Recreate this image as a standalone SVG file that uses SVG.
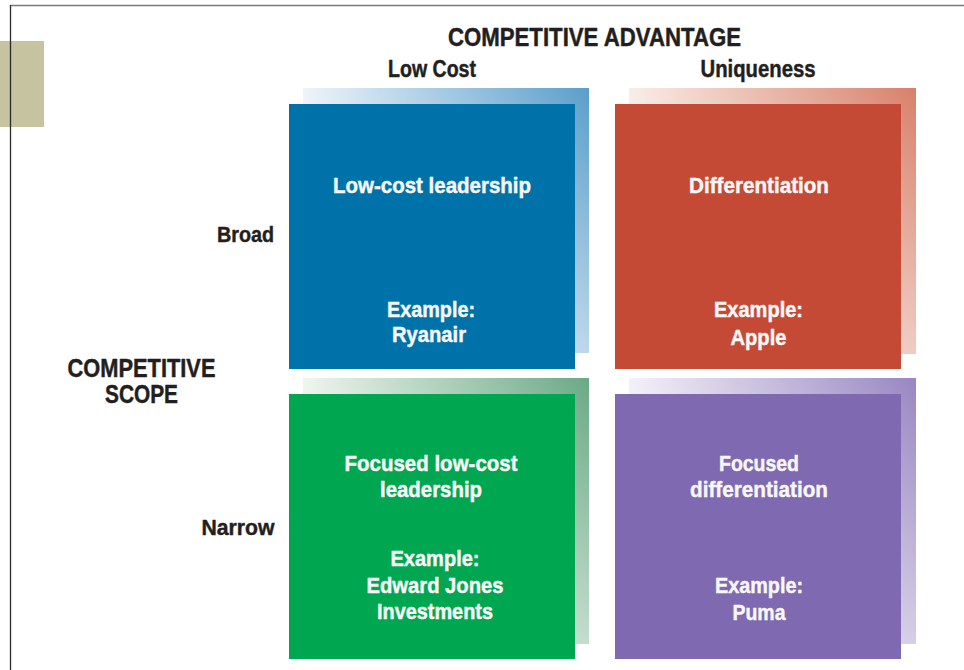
<svg xmlns="http://www.w3.org/2000/svg" width="964" height="670" viewBox="0 0 964 670">
<style>
.t{font-family:"Liberation Sans Narrow","Liberation Sans",Arial,sans-serif;font-weight:bold;text-anchor:middle;stroke-width:0.45px;stroke-linejoin:round}
.d{fill:#231f20;stroke:#231f20}
.w{fill:#f7f7f7;stroke:#f7f7f7;font-size:22px}
.h{font-size:25px}
.s{font-size:23px}
.r{font-size:22px}
</style>
<defs>
<linearGradient id="gb" x1="0" y1="0" x2="1" y2="0"><stop offset="0" stop-color="#eef4fa"/><stop offset="1" stop-color="#5a9ecb"/></linearGradient>
<linearGradient id="gr" x1="0" y1="0" x2="1" y2="0"><stop offset="0" stop-color="#f9ede7"/><stop offset="1" stop-color="#d8806a"/></linearGradient>
<linearGradient id="gg" x1="0" y1="0" x2="1" y2="0"><stop offset="0" stop-color="#eef5ef"/><stop offset="1" stop-color="#6aa985"/></linearGradient>
<linearGradient id="gp" x1="0" y1="0" x2="1" y2="0"><stop offset="0" stop-color="#f3f1f8"/><stop offset="1" stop-color="#9886c2"/></linearGradient>
<linearGradient id="fade" x1="0" y1="0" x2="0" y2="1"><stop offset="0" stop-color="#fff" stop-opacity="0"/><stop offset="1" stop-color="#fff" stop-opacity="0.6"/></linearGradient>
</defs>
<rect width="964" height="670" fill="#fff"/>
<rect x="0" y="41" width="44" height="86" fill="#c5c3a0"/>
<line x1="10" y1="5.5" x2="964" y2="5.5" stroke="#7a7a7a" stroke-width="1.5"/>
<line x1="10.5" y1="5" x2="10.5" y2="670" stroke="#2a2a2a" stroke-width="1.3"/>

<g id="header">
<text class="t d h" x="594.5" y="46" textLength="293" lengthAdjust="spacingAndGlyphs">COMPETITIVE ADVANTAGE</text>
<text class="t d s" x="432" y="77" textLength="88" lengthAdjust="spacingAndGlyphs">Low Cost</text>
<text class="t d s" x="758" y="77" textLength="115" lengthAdjust="spacingAndGlyphs">Uniqueness</text>
</g>
<g id="rowlabels">
<text class="t d r" x="245.5" y="242" textLength="57" lengthAdjust="spacingAndGlyphs">Broad</text>
<text class="t d r" x="238" y="535" textLength="73" lengthAdjust="spacingAndGlyphs">Narrow</text>
<text class="t d h" x="141.5" y="376.5" textLength="148" lengthAdjust="spacingAndGlyphs">COMPETITIVE</text>
<text class="t d h" x="141.5" y="403" textLength="73" lengthAdjust="spacingAndGlyphs">SCOPE</text>
</g>

<g id="lowcost">
<rect x="303" y="88" width="286" height="265" fill="url(#gb)"/>
<rect x="303" y="88" width="286" height="265" fill="url(#fade)"/>
<rect x="289" y="104" width="286" height="265" fill="#0072aa"/>
<text class="t w" x="432" y="192.5" textLength="198" lengthAdjust="spacingAndGlyphs">Low-cost leadership</text>
<text class="t w" x="431" y="316.5" textLength="88" lengthAdjust="spacingAndGlyphs">Example:</text>
<text class="t w" x="429" y="341.5" textLength="74" lengthAdjust="spacingAndGlyphs">Ryanair</text>
</g>

<g id="differentiation">
<rect x="629" y="88" width="287" height="266" fill="url(#gr)"/>
<rect x="629" y="88" width="287" height="266" fill="url(#fade)"/>
<rect x="615" y="104" width="286" height="265" fill="#c54a35"/>
<text class="t w" x="759" y="193" textLength="140" lengthAdjust="spacingAndGlyphs">Differentiation</text>
<text class="t w" x="758.5" y="316.5" textLength="89" lengthAdjust="spacingAndGlyphs">Example:</text>
<text class="t w" x="758.5" y="344.5" textLength="56" lengthAdjust="spacingAndGlyphs">Apple</text>
</g>

<g id="focusedlowcost">
<rect x="303" y="378" width="286" height="266" fill="url(#gg)"/>
<rect x="303" y="378" width="286" height="266" fill="url(#fade)"/>
<rect x="289" y="394" width="286" height="265" fill="#00a650"/>
<text class="t w" x="431" y="471" textLength="173" lengthAdjust="spacingAndGlyphs">Focused low-cost</text>
<text class="t w" x="431" y="496.5" textLength="102" lengthAdjust="spacingAndGlyphs">leadership</text>
<text class="t w" x="435" y="566" textLength="89" lengthAdjust="spacingAndGlyphs">Example:</text>
<text class="t w" x="435" y="593" textLength="137" lengthAdjust="spacingAndGlyphs">Edward Jones</text>
<text class="t w" x="435" y="619" textLength="116" lengthAdjust="spacingAndGlyphs">Investments</text>
</g>

<g id="focuseddiff">
<rect x="629" y="378" width="287" height="266" fill="url(#gp)"/>
<rect x="629" y="378" width="287" height="266" fill="url(#fade)"/>
<rect x="615" y="394" width="286" height="265" fill="#7f69b0"/>
<text class="t w" x="759" y="471" textLength="80" lengthAdjust="spacingAndGlyphs">Focused</text>
<text class="t w" x="759" y="497" textLength="138" lengthAdjust="spacingAndGlyphs">differentiation</text>
<text class="t w" x="759" y="593" textLength="88" lengthAdjust="spacingAndGlyphs">Example:</text>
<text class="t w" x="759" y="619.5" textLength="53" lengthAdjust="spacingAndGlyphs">Puma</text>
</g>
<g id="connectors"/>
</svg>
